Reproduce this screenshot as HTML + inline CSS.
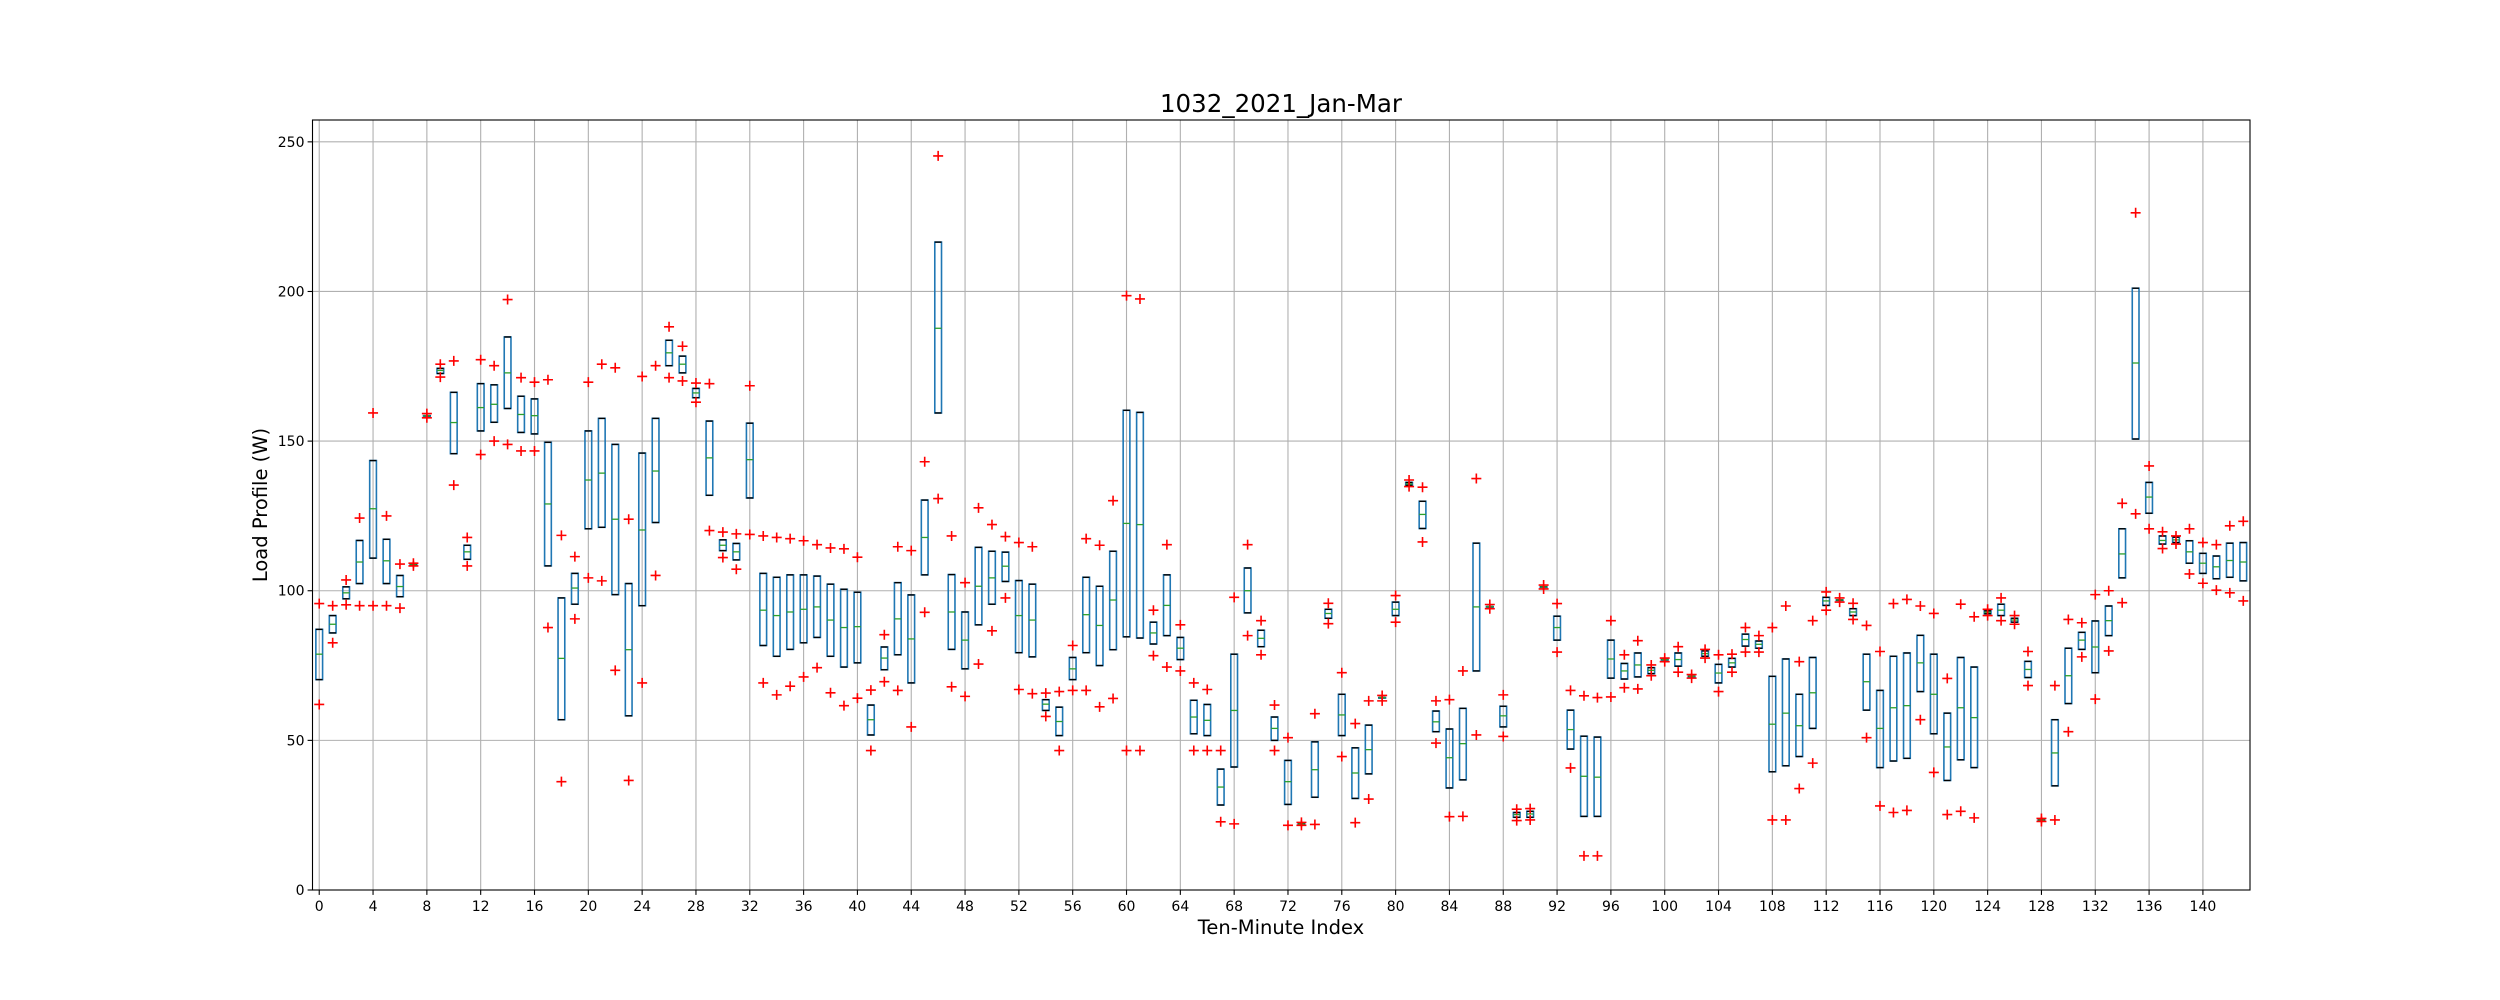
<!DOCTYPE html>
<html><head><meta charset="utf-8"><style>
html,body{margin:0;padding:0;background:#fff;}
svg{display:block;font-family:"DejaVu Sans","Liberation Sans",sans-serif;}
</style></head><body>
<svg id="chart" width="2500" height="1000" viewBox="0 0 2500 1000" xmlns="http://www.w3.org/2000/svg">
<rect x="0" y="0" width="2500" height="1000" fill="#fff"/>
<g id="grid"></g>
<g id="boxes"></g>
<rect x="312.5" y="120" width="1937.5" height="770" fill="none" stroke="#000" stroke-width="1.1"/>
<g id="ticks"></g>
<text x="1281" y="112" font-size="24.5" text-anchor="middle" fill="#000">1032_2021_Jan-Mar</text>
<text x="1281" y="934" font-size="19.5" text-anchor="middle" fill="#000">Ten-Minute Index</text>
<text x="0" y="0" font-size="19.5" text-anchor="middle" fill="#000" transform="translate(267,505) rotate(-90)">Load Profile (W)</text>
</svg>
<script>
const q1 = [70.3,85.9,97.3,102.4,110.9,102.4,98,108.7,158.5,172.6,145.8,110.5,153.4,156.3,160.9,152.9,152.4,108.3,56.9,95.5,120.7,121.2,98.7,58.2,95,122.8,175.2,172.8,164.5,131.9,113.4,110.3,131,81.7,78.1,80.4,82.6,84.4,78.1,74.5,75.9,51.8,73.6,78.6,69.2,105.3,159.4,80.4,73.9,88.6,95.5,103.1,79.3,77.9,60,51.6,70.3,79.3,75,80.3,84.6,84.2,82.2,85,77,52.2,51.6,28.4,41.1,92.6,81.3,50,28.6,22.1,31,90.8,51.6,30.6,38.8,64.3,91.7,135.2,120.8,52.9,34.1,36.8,73.2,94.7,54.5,24.3,24.3,101.3,83.5,47.1,24.6,24.6,70.8,70.5,71.2,72.3,77,74.8,71.4,78.1,69.2,74.5,81.5,80.8,39.5,41.5,44.6,54,95.1,96.9,91.7,60.1,40.9,43.1,44,66.3,52.2,36.6,43.5,40.9,92.3,91.7,89.5,71,23.4,34.8,62.3,80.4,72.6,85,104.3,150.7,125.9,115.6,116.1,109.2,105.8,104,104.5,103.3];
const med = [78.8,88.8,99.3,109.6,127.4,110,101.4,108.7,158.5,173.6,156.2,113,161.2,162.3,172.8,158.9,158.5,129,77.4,100.9,137,139.3,123.9,80.3,120.3,140,179.5,175.7,166.1,144.4,115.2,113,143.8,93.5,91.7,92.9,93.8,94.6,90.2,87.7,88,56.9,77.5,90.6,83.9,117.8,187.7,92.9,83.5,101.5,104.3,108.2,91.7,90.2,62.1,56.3,73.9,92,88.4,96.9,122.5,122.1,85.9,95.1,80.8,57.8,56.7,34.4,60,100,84.1,54,36.2,22.1,40.2,92.4,58.5,39.1,46.9,64.3,93.8,135.7,125.5,56.2,44.2,48.9,94.6,94.7,58.2,25.2,25.4,101.3,87.7,53.6,38,37.7,77.2,73.2,75.2,73.4,77,77,71.4,79,72.5,75.9,83.7,82.1,55.4,59.1,54.9,65.9,96.6,96.9,92.9,69.6,54,60.9,61.6,75.9,65.4,47.8,60.9,57.6,92.8,93.5,90.2,73.7,23.4,45.8,71.6,83.5,81.2,90,112.3,176.1,131.3,116.8,117,113,109.2,108,110.1,109.6];
const q3 = [87.1,91.7,101.3,116.8,143.5,117.2,105.1,108.7,158.5,174.3,166.3,115.2,169.2,168.8,184.8,165,164.1,149.6,97.6,105.8,153.4,157.6,148.9,102.4,146,157.6,183.7,178.4,167.6,156.7,117,115.8,156,105.8,104.5,105.3,105.3,104.9,102.2,100.5,99.5,61.8,81.2,102.7,98.6,130.3,216.5,105.4,92.9,114.5,113.2,112.9,103.4,102.2,63.6,61.1,77.7,104.5,101.5,113.2,160.3,159.6,89.5,105.3,84.4,63.4,62,40.4,78.8,107.6,86.8,57.8,43.3,22.1,49.5,93.8,65.4,47.5,55.1,64.3,96.2,136.2,129.9,59.8,53.8,60.7,115.9,94.7,61.4,25.9,26.3,101.3,91.5,60.1,51.4,51.1,83.5,75.7,79.2,74.3,77,79.2,71.4,79.9,75.4,77.4,85.5,83.2,71.4,77.2,65.4,77.7,97.8,96.9,94,78.8,66.7,78.1,79.2,85.1,78.8,59.1,77.7,74.5,93.3,95.5,90.8,76.4,23.4,56.9,80.8,86.1,89.9,94.9,120.7,201.1,136.2,118.3,117.9,116.7,112.5,111.6,115.9,116.1];
const fliersLow = [62,82.6,95.3,95,95,95,94.2,108.3,157.8,171.4,135.3,108.3,145.5,150,148.9,146.7,146.7,87.7,36.2,90.6,104.3,103.3,73.4,36.6,69.2,105.1,171.2,170.1,163,120.1,111.1,107.2,118.8,69.2,65.2,68.1,71.2,74.3,65.9,61.6,64.1,46.6,69.6,66.7,54.5,92.8,130.8,67.9,64.7,75.5,86.6,97.6,67,65.6,58,46.6,66.7,66.7,61.2,64,46.6,46.6,78.3,74.5,73.2,46.6,46.6,22.8,22.1,85,78.6,46.6,21.6,21.6,21.9,89,44.6,22.5,30.4,63.2,89.5,134.8,116.3,49.1,24.5,24.6,51.8,94,51.3,23.2,23.4,100.6,79.5,40.8,11.4,11.4,64.5,67.6,67.2,71.6,76.3,72.8,70.8,77.5,66.3,72.8,79.5,79.5,23.4,23.4,33.9,42.4,93.5,96.2,90.4,50.9,28.1,25.9,26.6,56.9,39.3,25.2,26.3,24.1,91.7,90,88.8,68.3,22.9,23.4,52.9,77.9,63.8,79.9,96,125.7,120.7,114.1,115.6,105.6,102.5,100.2,99.3,96.6];
const fliersHigh = [95.7,95,103.6,124.3,159.4,125,108.9,109.2,159.2,175.7,176.8,117.8,177.2,175.2,197.3,171.2,169.7,170.5,118.5,111.4,169.7,175.7,174.5,123.9,171.6,175.2,188.2,181.7,169.4,169.2,119.6,119,168.5,118.3,117.8,117.4,116.7,115.4,114.3,114,111.2,66.8,85.3,114.7,113.4,143.1,245.3,118.3,102.7,127.7,122.1,118.1,116.1,114.7,65.8,66.3,81.7,117.4,115.2,130.1,198.6,197.5,93.5,115.4,88.6,69.2,67,46.6,97.8,115.4,90,61.8,50.9,22.6,58.9,95.8,72.6,55.6,63.2,65,98.4,137,134.6,63.2,63.6,73.2,137.5,95.4,65.2,27,27.2,101.9,95.7,66.7,64.9,64.3,90,78.6,83.3,75.2,77.5,81.3,72,80.4,78.6,78.8,87.7,85,87.7,94.9,76.3,90,99.6,97.6,95.8,88.4,79.7,95.7,97.1,94.9,92.4,70.7,95.5,91.3,93.8,97.6,91.7,79.7,23.9,68.3,90.4,89.3,98.7,100,129.2,226.3,141.7,119.7,118.3,120.7,116.1,115.4,121.7,123.2];
const yTickValues = [0,50,100,150,200,250];
const xTickValues = [0,4,8,12,16,20,24,28,32,36,40,44,48,52,56,60,64,68,72,76,80,84,88,92,96,100,104,108,112,116,120,124,128,132,136,140];

const NS = 'http://www.w3.org/2000/svg';
const L = 312.5, R = 2250, T = 120, B = 890;
const xMin = -0.5, xMax = 143.5, yMin = 0, yMax = 257.3;
function xs(v){ return L + (v - xMin) / (xMax - xMin) * (R - L); }
function ys(v){ return B - (v - yMin) / (yMax - yMin) * (B - T); }
function mk(tag, attrs, parent){ const e = document.createElementNS(NS, tag); for (const k in attrs) e.setAttribute(k, attrs[k]); parent.appendChild(e); return e; }

const grid = document.getElementById('grid');
const ticks = document.getElementById('ticks');
yTickValues.forEach(v => {
  const y = ys(v);
  const g = mk('line', {x1:L, x2:R, y1:y, y2:y, stroke:'#b0b0b0', 'stroke-width':1.1}, grid);
  
  
  mk('line', {x1:L-4.9, x2:L, y1:y, y2:y, stroke:'#000', 'stroke-width':1.1}, ticks);
  const t = mk('text', {x:L-8, y:y+5, 'font-size':14, 'text-anchor':'end', fill:'#000'}, ticks);
  t.textContent = v;
  
  
});
xTickValues.forEach(v => {
  const x = xs(v);
  const g = mk('line', {x1:x, x2:x, y1:T, y2:B, stroke:'#b0b0b0', 'stroke-width':1.1}, grid);
  
  
  mk('line', {x1:x, x2:x, y1:B, y2:B+4.9, stroke:'#000', 'stroke-width':1.1}, ticks);
  const t = mk('text', {x:x, y:B+21, 'font-size':14, 'text-anchor':'middle', fill:'#000'}, ticks);
  t.textContent = v;
  
  
});

const boxes = document.getElementById('boxes');
const hw = 0.25 * (R - L) / (xMax - xMin);
function plus(cx, cy, parent){
  const p = mk('path', {d:`M${cx-5},${cy}H${cx+5}M${cx},${cy-5}V${cy+5}`, stroke:'#ff0000', 'stroke-width':1.6, fill:'none'}, parent);
  
  
}
q1.forEach((_, i) => {
  const g = mk('g', {}, boxes);
  
  
  const cx = xs(i);
  const yTop = ys(q3[i]), yBot = ys(q1[i]), yMed = ys(med[i]);
  mk('rect', {x:cx-hw, y:yTop, width:2*hw, height:Math.max(yBot-yTop,0.5), fill:'none', stroke:'#1f77b4', 'stroke-width':1.6}, g);
  mk('line', {x1:cx-hw, x2:cx+hw, y1:yTop, y2:yTop, stroke:'#000', 'stroke-width':1.4}, g);
  mk('line', {x1:cx-hw, x2:cx+hw, y1:yBot, y2:yBot, stroke:'#000', 'stroke-width':1.4}, g);
  mk('line', {x1:cx-hw, x2:cx+hw, y1:yMed, y2:yMed, stroke:'#2ca02c', 'stroke-width':1.3}, g);
  plus(cx, ys(fliersLow[i]), g);
  plus(cx, ys(fliersHigh[i]), g);
});
</script>
</body></html>
